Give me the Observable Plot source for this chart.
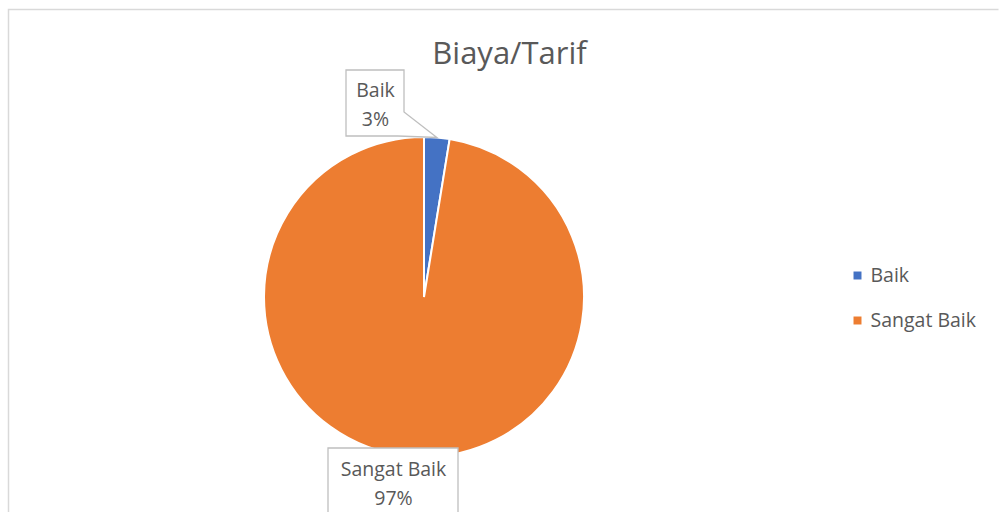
<!DOCTYPE html>
<html><head><meta charset="utf-8">
<script src="https://cdn.jsdelivr.net/npm/d3@7"></script>
<script src="https://cdn.jsdelivr.net/npm/@observablehq/plot@0.6"></script>
<style>body{margin:0;background:#fff} svg{display:block}</style>
</head><body><div id="chart"></div>
<script>
const categories = ["Baik", "Sangat Baik"];
const values = [1, 38];
const colors = ["#4472C4", "#ED7D31"];
const title = "Biaya/Tarif";

const W = 999, H = 512;
const cx = 424, cy = 297, R = 160;
const font = "'Open Sans', 'Noto Sans', sans-serif";
const textColor = "#595959";

const total = d3.sum(values);
const rows = categories.map((c, i) => ({cat: c, value: values[i], pct: Math.round(values[i] / total * 100) + "%"}));
const pie = d3.pie().sort(null).value(d => d.value)(rows);
const arc = d3.arc().innerRadius(0).outerRadius(R);

// callout label layout (box position per category)
const labelBoxes = [
  {x0: 346, x1: 404, y0: 70, y1: 136, tx: 375, ty: 101.5},
  {x0: 328, x1: 458, y0: 448, y1: 530, tx: 393, ty: 480.5}
];
const legendX = 857, legendY = [275, 320];

function frameMark(index, scales) {
  const g = d3.create("svg:g");
  g.append("path")
    .attr("d", `M${scales.x(8.5)},${scales.y(530)}V${scales.y(9.5)}H${scales.x(998.5)}`)
    .attr("fill", "none").attr("stroke", "#D9D9D9").attr("stroke-width", 1.5);
  return g.node();
}

function pieMark(index, scales) {
  const g = d3.create("svg:g")
    .attr("transform", `translate(${scales.x(cx)},${scales.y(cy)})`);
  g.selectAll("path").data(pie).join("path")
    .attr("d", arc)
    .attr("fill", d => scales.color(d.data.cat))
    .attr("stroke", "#fff").attr("stroke-width", 2);
  return g.node();
}

function calloutMark(index, scales) {
  const g = d3.create("svg:g");
  pie.forEach((d, i) => {
    const b = labelBoxes[i];
    const a = (d.startAngle + d.endAngle) / 2;
    const tip = [cx + R * Math.sin(a), cy - R * Math.cos(a)];
    let p;
    if (i === 0) {
      p = `M${b.x0},${b.y0}H${b.x1}V${b.y1 - 24}L${tip[0]},${tip[1]}L${b.x1 - 6},${b.y1}H${b.x0}Z`;
    } else {
      p = `M${b.x0},${b.y0}H${b.x1}V${b.y1}H${b.x0}Z`;
    }
    g.append("path").attr("d", p).attr("fill", "#fff").attr("stroke", "#BFBFBF").attr("stroke-width", 1.3);
  });
  return g.node();
}

const labelData = pie.map((d, i) => ({cat: d.data.cat, text: d.data.cat + "\n" + d.data.pct, x: labelBoxes[i].tx, y: labelBoxes[i].ty}));
const legendData = categories.map((c, i) => ({cat: c, x: legendX, y: legendY[i]}));

const chart = Plot.plot({
  width: W, height: H,
  margin: 0,
  style: {background: "#fff", fontFamily: font},
  x: {domain: [0, W], range: [0, W], axis: null},
  y: {domain: [0, H], range: [0, H], axis: null},
  color: {domain: categories, range: colors},
  marks: [
    frameMark,
    pieMark,
    calloutMark,
    Plot.text(labelData, {x: "x", y: "y", text: "text", fill: textColor, fontSize: 19.5, lineHeight: 1.5, textAnchor: "middle"}),
    Plot.text([title], {x: () => 509, y: () => 54, text: d => d, fill: textColor, fontSize: 31, textAnchor: "middle"}),
    Plot.dot(legendData, {x: "x", y: "y", fill: "cat", symbol: "square", r: 4.5}),
    Plot.text(legendData, {x: d => d.x + 13, y: "y", text: "cat", fill: textColor, fontSize: 19.5, textAnchor: "start"})
  ]
});
document.getElementById("chart").append(chart);
</script>
</body></html>
